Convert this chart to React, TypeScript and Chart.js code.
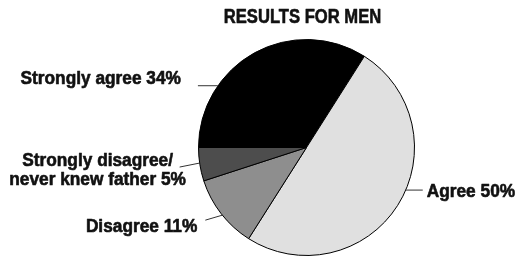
import { useEffect, useRef } from 'react';
import { Chart, registerables } from 'chart.js';

Chart.register(...registerables);

const chartTitle = 'RESULTS FOR MEN';
const categories = ['Strongly agree', 'Agree', 'Disagree', 'Strongly disagree/never knew father'];
const values = [34, 50, 11, 5];
const labelLines = [
  ['Strongly agree 34%'],
  ['Agree 50%'],
  ['Disagree 11%'],
  ['Strongly disagree/', 'never knew father 5%'],
];
const sliceColors = ['#000000', '#e0e0e0', '#8e8e8e', '#4d4d4d'];

const FONT = '"Liberation Sans", Arimo, Arial, sans-serif';

// label placement per slice: fraction along the arc for the anchor, leader line offset, text offset
const labelLayout = [
  { frac: 0.285, line: [-20, 0], text: [-17, -2], align: 'right' },
  { frac: 0.449, line: [17, 0], text: [4, 7], align: 'left' },
  { frac: 0.475, line: [-17, 5], text: [-8, 12], align: 'right' },
  { frac: 0.54, line: [-20, 4], text: [-82, -1], align: 'center' },
];

function drawScaledText(ctx: CanvasRenderingContext2D, t: string, x: number, y: number, sx: number) {
  ctx.save();
  ctx.translate(x, y);
  ctx.scale(sx, 1);
  ctx.lineWidth = 0.6;
  ctx.lineJoin = 'round';
  ctx.strokeStyle = '#111';
  ctx.strokeText(t, 0, 0);
  ctx.fillText(t, 0, 0);
  ctx.restore();
}

const labelPlugin = {
  id: 'outsideLabels',
  afterDatasetsDraw(chart: any) {
    const ctx: CanvasRenderingContext2D = chart.ctx;
    const meta = chart.getDatasetMeta(0);
    const area = chart.chartArea;
    ctx.save();
    // title
    ctx.fillStyle = '#111';
    ctx.font = `bold 20px ${FONT}`;
    ctx.textAlign = 'center';
    ctx.textBaseline = 'alphabetic';
    drawScaledText(ctx, chartTitle, (area.left + area.right) / 2 - 4, area.top - 16, 0.83);

    meta.data.forEach((arc: any, i: number) => {
      const L = labelLayout[i];
      const { x, y, startAngle, endAngle, outerRadius } = arc.getProps(
        ['x', 'y', 'startAngle', 'endAngle', 'outerRadius'],
        true
      );
      const a = startAngle + (endAngle - startAngle) * L.frac;
      const ax = x + outerRadius * Math.cos(a);
      const ay = y + outerRadius * Math.sin(a);
      const ex = ax + L.line[0];
      const ey = ay + L.line[1];
      ctx.strokeStyle = '#333';
      ctx.lineWidth = 1;
      ctx.beginPath();
      ctx.moveTo(ax, ay);
      ctx.lineTo(ex, ey);
      ctx.stroke();
      ctx.fillStyle = '#111';
      ctx.font = `bold 18px ${FONT}`;
      ctx.textAlign = L.align as CanvasTextAlign;
      ctx.textBaseline = 'alphabetic';
      labelLines[i].forEach((t, j) => {
        drawScaledText(ctx, t, ex + L.text[0], ey + L.text[1] + j * 19, 0.96);
      });
    });
    ctx.restore();
  },
};

export default function App() {
  const ref = useRef<HTMLCanvasElement | null>(null);
  useEffect(() => {
    document.body.style.margin = '0';
    const canvas = ref.current;
    if (!canvas) return;
    const chart = new Chart(canvas, {
      type: 'pie',
      data: {
        labels: categories,
        datasets: [
          {
            data: values,
            backgroundColor: sliceColors,
            borderColor: '#000',
            borderWidth: 1,
          },
        ],
      },
      options: {
        responsive: false,
        animation: false,
        rotation: -90,
        layout: { padding: { left: 196, right: 106, top: 39, bottom: 1 } },
        plugins: {
          legend: { display: false },
          tooltip: { enabled: false },
          title: { display: false },
        },
      },
      plugins: [labelPlugin],
    });
    return () => chart.destroy();
  }, []);
  return <canvas ref={ref} width={523} height={257} style={{ display: 'block', width: 523, height: 257 }} />;
}
